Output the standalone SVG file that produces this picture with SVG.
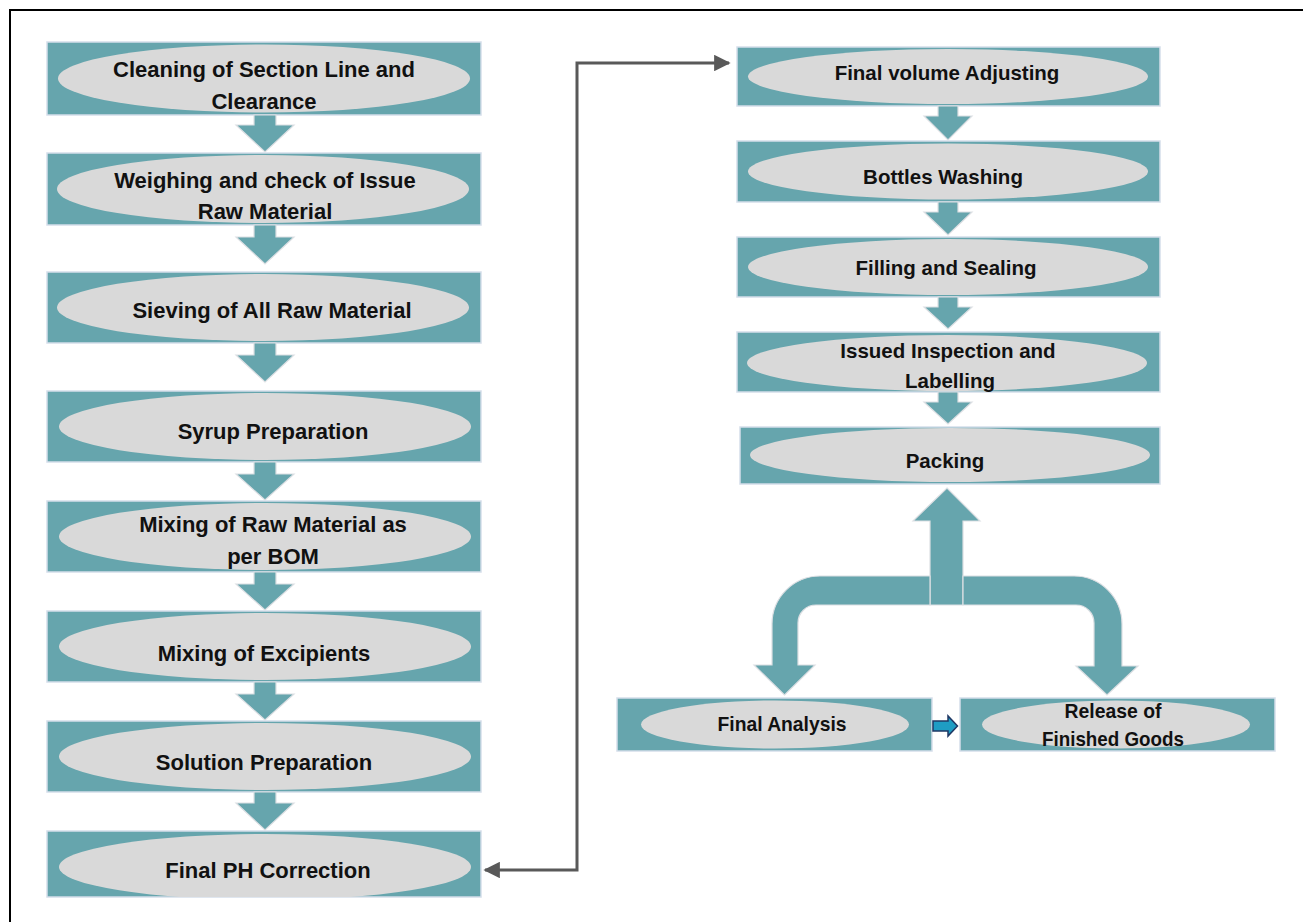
<svg xmlns="http://www.w3.org/2000/svg" width="1303" height="922" viewBox="0 0 1303 922">
<style>
.box{fill:#66a5ad;stroke:#d5deea;stroke-width:1.5}
.ell{fill:#d9d9d9}
.arr{fill:#66a5ad;stroke:#dcdfe3;stroke-width:1.2}
.tl{font-family:"Liberation Sans",Arial,sans-serif;font-weight:bold;font-size:22px;text-anchor:middle;fill:#111}
.tr{font-family:"Liberation Sans",Arial,sans-serif;font-weight:bold;font-size:20.5px;text-anchor:middle;fill:#111}
.tn{font-family:"Liberation Sans Narrow","Liberation Sans",Arial,sans-serif;font-weight:bold;font-size:21px;text-anchor:middle;fill:#111}
.conn{fill:none;stroke:#595959;stroke-width:3}
</style>
<defs>
<marker id="ah" viewBox="0 0 10 10" refX="9" refY="5" markerWidth="5.5" markerHeight="5.5" orient="auto-start-reverse" markerUnits="strokeWidth">
<path d="M0,0 L10,5 L0,10 z" fill="#595959"/>
</marker>
<clipPath id="c8"><rect x="47" y="831" width="434" height="66"/></clipPath>
</defs>
<rect width="1303" height="922" fill="#fff"/>
<path d="M10,922 V10 H1303" fill="none" stroke="#000" stroke-width="2"/>

<g id="n1"><rect class="box" x="47" y="42" width="434" height="73"/><ellipse class="ell" cx="264" cy="78.5" rx="206" ry="34"/>
<text class="tl" x="264" y="77">Cleaning of Section Line and</text><text class="tl" x="264" y="109">Clearance</text></g>
<g id="n2"><rect class="box" x="47" y="153" width="434" height="72"/><ellipse class="ell" cx="263" cy="189" rx="206" ry="34"/>
<text class="tl" x="265" y="188">Weighing and check of Issue</text><text class="tl" x="265" y="219">Raw Material</text></g>
<g id="n3"><rect class="box" x="47" y="272" width="434" height="71"/><ellipse class="ell" cx="263" cy="307.5" rx="206" ry="33.5"/>
<text class="tl" x="272" y="318">Sieving of All Raw Material</text></g>
<g id="n4"><rect class="box" x="47" y="391" width="434" height="71"/><ellipse class="ell" cx="265" cy="426.5" rx="206" ry="33.5"/>
<text class="tl" x="273" y="439">Syrup Preparation</text></g>
<g id="n5"><rect class="box" x="47" y="501" width="434" height="71"/><ellipse class="ell" cx="265" cy="536.5" rx="206" ry="33.5"/>
<text class="tl" x="273" y="532">Mixing of Raw Material as</text><text class="tl" x="273" y="564">per BOM</text></g>
<g id="n6"><rect class="box" x="47" y="611" width="434" height="71"/><ellipse class="ell" cx="265" cy="646.5" rx="206" ry="33.5"/>
<text class="tl" x="264" y="661">Mixing of Excipients</text></g>
<g id="n7"><rect class="box" x="47" y="721" width="434" height="71"/><ellipse class="ell" cx="265" cy="756.5" rx="206" ry="33.5"/>
<text class="tl" x="264" y="770">Solution Preparation</text></g>
<g id="n8"><rect class="box" x="47" y="831" width="434" height="66"/><ellipse class="ell" cx="265" cy="867" rx="206" ry="33" clip-path="url(#c8)"/>
<text class="tl" x="268" y="878">Final PH Correction</text></g>

<g id="r1"><rect class="box" x="737" y="47" width="423" height="59"/><ellipse class="ell" cx="948" cy="76.5" rx="200" ry="27.5"/>
<text class="tr" x="947" y="80">Final volume Adjusting</text></g>
<g id="r2"><rect class="box" x="737" y="141" width="423" height="61"/><ellipse class="ell" cx="948" cy="171.5" rx="200" ry="28"/>
<text class="tr" x="943" y="184">Bottles Washing</text></g>
<g id="r3"><rect class="box" x="737" y="237" width="423" height="60"/><ellipse class="ell" cx="948" cy="267" rx="200" ry="28"/>
<text class="tr" x="946" y="275">Filling and Sealing</text></g>
<g id="r4"><rect class="box" x="737" y="332" width="423" height="60"/><ellipse class="ell" cx="947" cy="363" rx="200" ry="28"/>
<text class="tr" x="948" y="358">Issued Inspection and</text><text class="tr" x="950" y="388">Labelling</text></g>
<g id="r5"><rect class="box" x="740" y="427" width="420" height="57"/><ellipse class="ell" cx="950" cy="455" rx="200" ry="27"/>
<text class="tr" x="945" y="468">Packing</text></g>

<g id="b1"><rect class="box" x="617" y="698" width="315" height="53"/><ellipse class="ell" cx="775" cy="724.5" rx="134" ry="24"/>
<text class="tn" x="782" y="731" textLength="129" lengthAdjust="spacingAndGlyphs">Final Analysis</text></g>
<g id="b2"><rect class="box" x="960" y="698" width="315" height="53"/><ellipse class="ell" cx="1116" cy="724.5" rx="134" ry="24"/>
<text class="tn" x="1113" y="718" textLength="97" lengthAdjust="spacingAndGlyphs">Release of</text>
<text class="tn" x="1113" y="746" textLength="142" lengthAdjust="spacingAndGlyphs">Finished Goods</text></g>

<g id="connectors">
<path class="arr" d="M254,115 H276 V125 H294 L265,152 L236,125 H254 Z"/>
<path class="arr" d="M254,225 H276 V237 H294 L265,264 L236,237 H254 Z"/>
<path class="arr" d="M254,343 H276 V355 H294 L265,382 L236,355 H254 Z"/>
<path class="arr" d="M254,462 H276 V474 H294 L265,500 L236,474 H254 Z"/>
<path class="arr" d="M254,572 H276 V584 H294 L265,610 L236,584 H254 Z"/>
<path class="arr" d="M254,682 H276 V694 H294 L265,720 L236,694 H254 Z"/>
<path class="arr" d="M254,792 H276 V803 H294 L265,830 L236,803 H254 Z"/>

<path class="arr" d="M938,106 H958 V116 H972 L948,140 L924,116 H938 Z"/>
<path class="arr" d="M938,202 H958 V212 H972 L948,235 L924,212 H938 Z"/>
<path class="arr" d="M938,297 H958 V307 H972 L948,329 L924,307 H938 Z"/>
<path class="arr" d="M938,392 H958 V402 H972 L948,424 L924,402 H938 Z"/>

<path class="arr" d="M947,488 L980,521 H963 V605 H930 V521 H913 Z"/>
<path class="arr" d="M930,576 H820 A48,48 0 0 0 772,624 V665 H754 L784.5,695 L815,665 H798 V623 A18,18 0 0 1 816,605 H930 Z"/>
<path class="arr" d="M963,576 H1074 A48,48 0 0 1 1122,624 V666 H1138 L1107,695 L1076,666 H1094 V623 A18,18 0 0 0 1076,605 H963 Z"/>

<path d="M933,721 H948 V716 L957.5,726 L948,736 V731 H933 Z" fill="#1e9dc4" stroke="#1f3864" stroke-width="1.5"/>

<path class="conn" d="M485,870 H577 V63 H729" marker-start="url(#ah)" marker-end="url(#ah)"/>
</g>
</svg>
